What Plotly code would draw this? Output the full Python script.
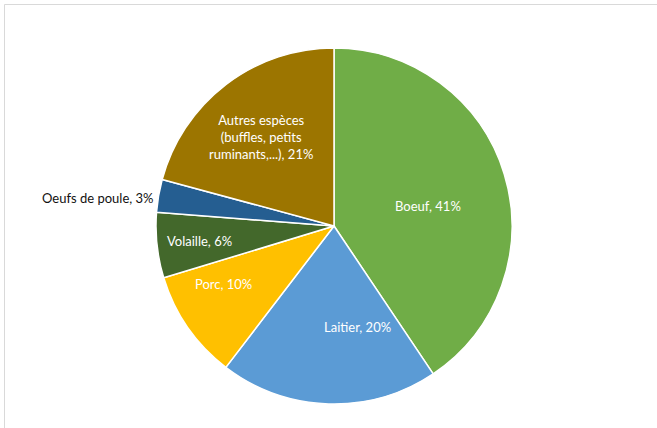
import math
import plotly.graph_objects as go

labels = ["Boeuf", "Laitier", "Porc", "Volaille", "Oeufs de poule",
          "Autres espèces<br>(buffles, petits<br>ruminants,...)"]
values = [41, 20, 10, 6, 3, 21]
colors = ["#70AD47", "#5B9BD5", "#FFC000", "#43682B", "#255E91", "#9C7500"]
text_colors = ["white", "white", "white", "white", "#111111", "white"]
# radial placement of labels (fraction of radius); >1 means outside
label_radius = [0.54, 0.58, 0.70, 0.76, 1.01, 0.65]
label_angle_shift = [5, -15, 7, 0, -1, -2]
label_anchor = ["center", "center", "center", "center", "right", "center"]

W, H = 657, 428
cx, cy, R = 334, 226, 178
ml, mt = cx - R, cy - R
mr, mb = W - (cx + R), H - (cy + R)

fig = go.Figure(go.Pie(
    labels=labels, values=values, sort=False, direction="clockwise",
    rotation=0, marker=dict(colors=colors, line=dict(color="white", width=1.5)),
    textinfo="none", hoverinfo="label+percent", showlegend=False,
))

total = sum(values)
cum = 0
annotations = []
for lab, v, tc, rf, sh, anc in zip(labels, values, text_colors, label_radius,
                                   label_angle_shift, label_anchor):
    mid = (cum + v / 2) / total * 360 + sh
    cum += v
    a = math.radians(mid)
    px = cx + rf * R * math.sin(a)
    py = cy - rf * R * math.cos(a)
    annotations.append(dict(
        x=(px - ml) / (2 * R), y=1 - (py - mt) / (2 * R), xref="paper", yref="paper",
        text=f"{lab}, {v}%", showarrow=False, font=dict(color=tc, size=13, family="Lato"),
        xanchor=anc, yanchor="middle", align="center",
    ))

fig.update_layout(
    width=W, height=H, margin=dict(l=ml, r=mr, t=mt, b=mb),
    paper_bgcolor="white", plot_bgcolor="white",
    font=dict(family="Lato", size=13),
    annotations=annotations,
    shapes=[
        dict(type="line", xref="paper", yref="paper",
             x0=(4.5 - ml) / (2 * R), x1=(W + 10 - ml) / (2 * R),
             y0=1 - (4.5 - mt) / (2 * R), y1=1 - (4.5 - mt) / (2 * R),
             line=dict(color="#d9d9d9", width=1)),
        dict(type="line", xref="paper", yref="paper",
             x0=(4.5 - ml) / (2 * R), x1=(4.5 - ml) / (2 * R),
             y0=1 - (4.5 - mt) / (2 * R), y1=1 - (H + 10 - mt) / (2 * R),
             line=dict(color="#d9d9d9", width=1)),
    ],
)

fig.write_html("out.html")
